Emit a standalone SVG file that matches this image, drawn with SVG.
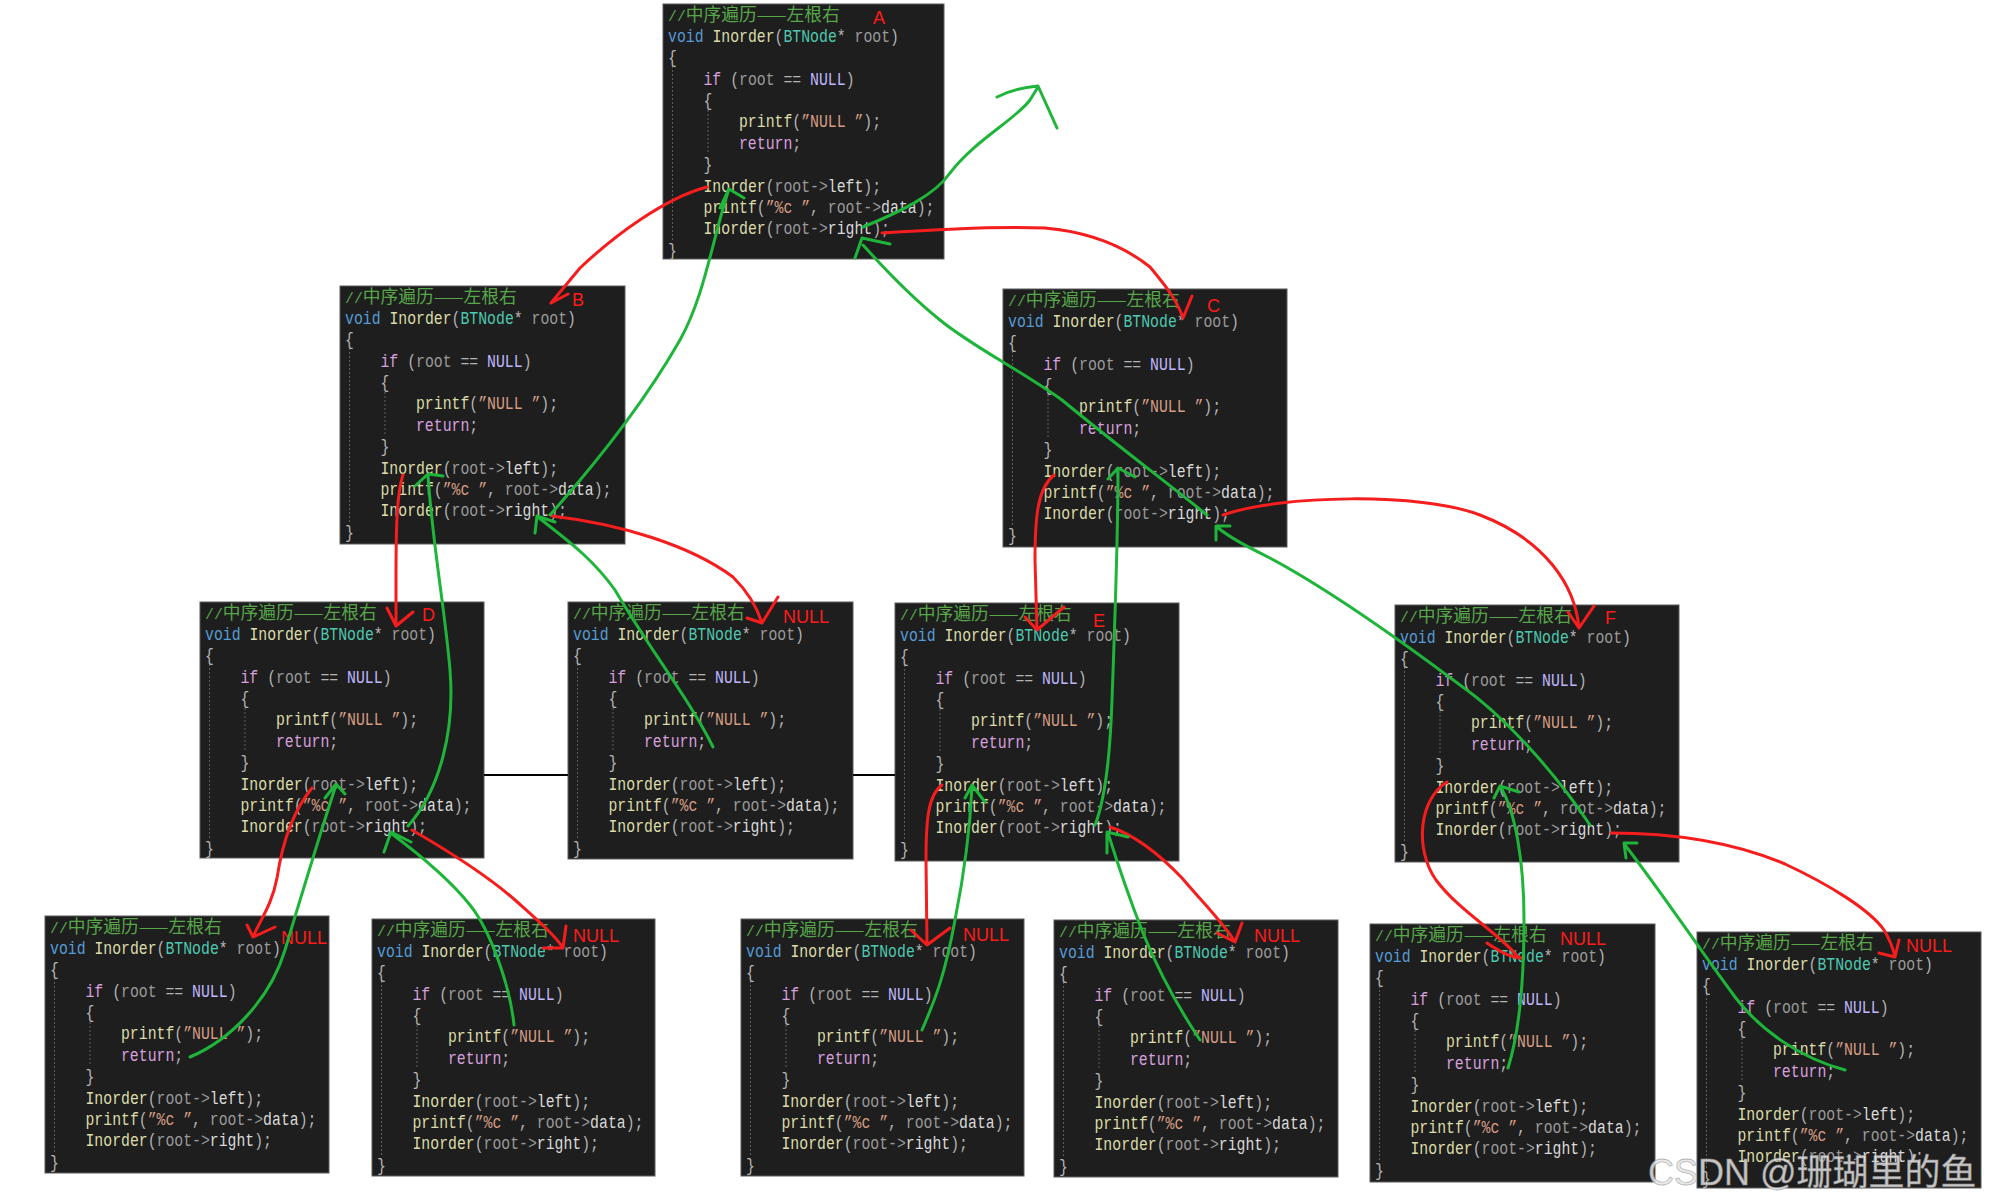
<svg xmlns="http://www.w3.org/2000/svg" xmlns:xlink="http://www.w3.org/1999/xlink" width="1989" height="1204" viewBox="0 0 1989 1204">
<style>
.box{fill:#1e1e1e;stroke:#5a5a5a;stroke-width:1}
.t{font-family:"Liberation Mono","DejaVu Sans Mono",monospace;font-size:14.8px;fill:#b4b4b4}
.cj{font-family:"Noto Sans CJK SC",sans-serif;font-size:17.75px}
.cm{fill:#57a64a}
.kw{fill:#569cd6}
.fn{fill:#dcdcaa}
.ty{fill:#4ec9b0}
.pr{fill:#9a9a9a}
.ct{fill:#d8a0df}
.mc{fill:#beb7ff}
.st{fill:#d69d85}
.me{fill:#dadada}
.pu{fill:#b4b4b4}
.guide{stroke:#5e5e5e;stroke-width:1;stroke-dasharray:2 2;fill:none}
.lbl{font-family:"Liberation Sans",Arial,sans-serif;font-size:18px;fill:#ff1a1a}
.red{fill:none;stroke:#f51d1d;stroke-width:3;stroke-linecap:round;stroke-linejoin:round}
.grn{fill:none;stroke:#1fb53a;stroke-width:3;stroke-linecap:round;stroke-linejoin:round}
.blk{stroke:#000;stroke-width:2}
.wm{font-family:"Liberation Sans","Noto Sans CJK SC",sans-serif;font-size:36px;fill:#e6e6e6;fill-opacity:0.85;stroke:#8a8a8a;stroke-opacity:0.6;stroke-width:0.8}
</style>
<defs>
<g id="code" class="t" xml:space="preserve">
<path class="guide" d="M9.5,62V238M45,106V150"/>
<text x="5" y="16.5"><tspan class="cm">//</tspan><tspan class="cm cj">中序遍历——左根右</tspan></text>
<g transform="scale(1 1.25)">
<text x="5" y="30.32"><tspan class="kw">void</tspan> <tspan class="fn">Inorder</tspan><tspan class="pu">(</tspan><tspan class="ty">BTNode</tspan><tspan class="pu">*</tspan> <tspan class="pr">root</tspan><tspan class="pu">)</tspan></text>
<text x="5" y="47.44" class="pu">{</text>
<text x="40.5" y="64.56"><tspan class="ct">if</tspan> <tspan class="pu">(</tspan><tspan class="pr">root</tspan> <tspan class="pu">==</tspan> <tspan class="mc">NULL</tspan><tspan class="pu">)</tspan></text>
<text x="40.5" y="81.68" class="pu">{</text>
<text x="76" y="98.8"><tspan class="fn">printf</tspan><tspan class="pu">(</tspan><tspan class="st">”NULL ”</tspan><tspan class="pu">);</tspan></text>
<text x="76" y="115.92"><tspan class="ct">return</tspan><tspan class="pu">;</tspan></text>
<text x="40.5" y="133.04" class="pu">}</text>
<text x="40.5" y="150.16"><tspan class="fn">Inorder</tspan><tspan class="pu">(</tspan><tspan class="pr">root-&gt;</tspan><tspan class="me">left</tspan><tspan class="pu">);</tspan></text>
<text x="40.5" y="167.28"><tspan class="fn">printf</tspan><tspan class="pu">(</tspan><tspan class="st">”%c ”</tspan><tspan class="pu">, </tspan><tspan class="pr">root-&gt;</tspan><tspan class="me">data</tspan><tspan class="pu">);</tspan></text>
<text x="40.5" y="184.4"><tspan class="fn">Inorder</tspan><tspan class="pu">(</tspan><tspan class="pr">root-&gt;</tspan><tspan class="me">right</tspan><tspan class="pu">);</tspan></text>
<text x="5" y="201.52" class="pu">}</text>
</g>
</g>
</defs>
<rect width="1989" height="1204" fill="#ffffff"/>

<g id="node-A" transform="translate(663,4)"><rect class="box" width="281" height="255"/><use xlink:href="#code"/><text class="lbl" x="210" y="20">A</text></g>
<g id="node-B" transform="translate(340,286)"><rect class="box" width="285" height="258"/><use xlink:href="#code"/><text class="lbl" x="232" y="20">B</text></g>
<g id="node-C" transform="translate(1003,289)"><rect class="box" width="284" height="258"/><use xlink:href="#code"/><text class="lbl" x="204" y="23">C</text></g>
<g id="node-D" transform="translate(200,602)"><rect class="box" width="284" height="256"/><use xlink:href="#code"/><text class="lbl" x="222" y="19">D</text></g>
<g id="node-B-right-null" transform="translate(568,602)"><rect class="box" width="285" height="257"/><use xlink:href="#code"/><text class="lbl" x="215" y="21">NULL</text></g>
<g id="node-E" transform="translate(895,603)"><rect class="box" width="284" height="258"/><use xlink:href="#code"/><text class="lbl" x="198" y="24">E</text></g>
<g id="node-F" transform="translate(1395,605)"><rect class="box" width="284" height="257"/><use xlink:href="#code"/><text class="lbl" x="210" y="19">F</text></g>
<g id="node-D-left-null" transform="translate(45,916)"><rect class="box" width="284" height="257"/><use xlink:href="#code"/><text class="lbl" x="236" y="28">NULL</text></g>
<g id="node-D-right-null" transform="translate(372,919)"><rect class="box" width="283" height="257"/><use xlink:href="#code"/><text class="lbl" x="201" y="23">NULL</text></g>
<g id="node-E-left-null" transform="translate(741,919)"><rect class="box" width="283" height="257"/><use xlink:href="#code"/><text class="lbl" x="222" y="22">NULL</text></g>
<g id="node-E-right-null" transform="translate(1054,920)"><rect class="box" width="284" height="257"/><use xlink:href="#code"/><text class="lbl" x="200" y="22">NULL</text></g>
<g id="node-F-left-null" transform="translate(1370,924)"><rect class="box" width="285" height="258"/><use xlink:href="#code"/><text class="lbl" x="190" y="21">NULL</text></g>
<g id="node-F-right-null" transform="translate(1697,932)"><rect class="box" width="284" height="256"/><use xlink:href="#code"/><text class="lbl" x="209" y="20">NULL</text></g>

<g id="connectors">
<path class="blk" d="M484,775H568M853,775H895"/>
<path class="red" d="M707,187C665,198 615,235 580,268L551,303M551,303L568,294"/>
<path class="red" d="M882,233C940,229 1000,226 1045,228C1090,232 1125,247 1150,267C1165,285 1177,300 1183,318L1192,296"/>
<path class="red" d="M403,475C396,495 396,540 396,580L396,626M387,608L396,626L413,612"/>
<path class="red" d="M552,516C620,524 690,545 733,577C748,592 757,607 762,623M747,618L762,623L778,597"/>
<path class="red" d="M1054,475C1038,488 1035,515 1035,560L1037,630M1025,617L1037,630L1064,607"/>
<path class="red" d="M1223,515C1280,495 1420,492 1480,515C1545,540 1575,585 1579,628M1568,612L1579,628L1594,606"/>
<path class="red" d="M312,788C292,812 282,845 277,878C272,905 260,920 253,937M247,925L253,937L275,927"/>
<path class="red" d="M412,830C450,852 490,878 515,900C535,918 555,935 563,948M543,948L563,948L566,926"/>
<path class="red" d="M942,785C928,795 926,820 926,860L927,945M911,930L927,945L950,928"/>
<path class="red" d="M1110,827C1135,835 1160,855 1182,878C1205,905 1225,925 1235,942M1217,933L1235,942L1242,923"/>
<path class="red" d="M1447,782C1418,800 1415,850 1436,880C1460,912 1498,932 1519,958M1487,943C1500,952 1512,958 1522,958"/>
<path class="red" d="M1611,833C1680,833 1740,845 1785,864C1830,885 1870,910 1884,930C1890,940 1893,948 1895,957M1879,953L1895,957L1899,940"/>
<path class="grn" d="M863,227C900,212 935,195 950,173C975,140 1015,120 1030,100L1038,87M997,97Q1015,88 1038,86L1057,128"/>
<path class="grn" d="M550,515C590,470 640,410 680,340C705,295 712,240 729,189M720,208L729,189L744,198"/>
<path class="grn" d="M1207,515C1170,485 1110,440 1062,400C1020,370 970,345 940,320C915,300 890,275 863,245M855,258L862,238L890,244"/>
<path class="grn" d="M408,826C440,790 455,730 450,670C445,610 432,540 428,475M415,486L428,474L443,476"/>
<path class="grn" d="M713,747C690,700 650,650 615,590C590,555 560,535 538,517M535,533L537,516L555,522"/>
<path class="grn" d="M190,1057C230,1040 270,1000 285,950C300,900 318,840 336,785M325,798L336,784L345,794"/>
<path class="grn" d="M514,1025C510,985 490,930 470,905C450,880 420,855 392,834M384,852L391,832L411,842"/>
<path class="grn" d="M1095,825C1105,800 1110,760 1112,700C1115,620 1118,530 1118,470M1108,479L1118,468L1135,477"/>
<path class="grn" d="M922,1030C935,1000 945,975 955,920C965,870 970,830 972,786M965,798L972,785L985,802"/>
<path class="grn" d="M1200,1040C1180,1010 1160,975 1143,933C1130,900 1118,865 1108,833M1107,853L1107,832L1128,837"/>
<path class="grn" d="M1590,825C1560,780 1510,720 1460,685C1400,640 1330,590 1270,558C1250,548 1230,538 1217,527M1216,540L1216,526L1230,526"/>
<path class="grn" d="M1508,1068C1520,1030 1524,980 1524,920C1524,860 1515,810 1500,786M1494,798L1500,786L1519,792"/>
<path class="grn" d="M1845,1070C1800,1058 1760,1030 1735,997C1700,950 1660,890 1625,845M1626,858L1624,843L1637,843"/>
</g>

<text class="wm" x="1648" y="1185">CSDN @珊瑚里的鱼</text>
</svg>
